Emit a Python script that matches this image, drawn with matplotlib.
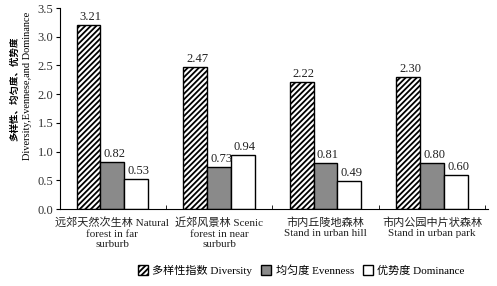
import matplotlib.pyplot as plt
import numpy as np

plt.rcParams['font.family'] = ['Liberation Serif', 'Noto Sans CJK SC']
plt.rcParams['hatch.linewidth'] = 1.3

sites = ['远郊天然次生林 Natural\nforest in far\nsurburb',
         '近郊风景林 Scenic\nforest in near\nsurburb',
         '市内丘陵地森林\nStand in urban hill',
         '市内公园中片状森林\nStand in urban park']
diversity = [3.21, 2.47, 2.22, 2.30]
evenness = [0.82, 0.73, 0.81, 0.80]
dominance = [0.53, 0.94, 0.49, 0.60]
series_names = ['多样性指数 Diversity', '均匀度 Evenness', '优势度 Dominance']

fig = plt.figure(figsize=(4.97, 2.86), dpi=100)
ax = fig.add_axes([0.121, 0.269, 0.860, 0.703])

x = np.arange(len(sites))
w = 0.224
b1 = ax.bar(x - w, diversity, w, color='white', edgecolor='black', hatch='//////', linewidth=1.0, label=series_names[0])
b2 = ax.bar(x, evenness, w, color='#8a8a8a', edgecolor='black', linewidth=1.0, label=series_names[1])
b3 = ax.bar(x + w, dominance, w, color='white', edgecolor='black', linewidth=1.0, label=series_names[2])

for bars, vals in [(b1, diversity), (b2, evenness), (b3, dominance)]:
    for r, v in zip(bars, vals):
        ax.text(r.get_x() + r.get_width() / 2 + 0.02, v + 0.03, '%.2f' % v,
                ha='center', va='bottom', fontsize=9, color='#222222')

ax.set_ylim(0, 3.5)
ax.set_yticks(np.arange(0, 3.51, 0.5))
ax.set_yticklabels(['%.1f' % t for t in np.arange(0, 3.51, 0.5)], fontsize=9, color='#333333')
ax.set_xlim(-0.49, 3.52)
ax.set_xticks(x)
labels = ax.set_xticklabels(sites, fontsize=8, color='#222222', linespacing=1.2)
ax.tick_params(axis='x', length=0, pad=6)
ax.set_xticks([0.5, 1.5, 2.5, 3.5], minor=True)
ax.tick_params(axis='x', which='minor', direction='in', length=3)
ax.tick_params(axis='y', direction='out', length=3, pad=2)
ax.spines['top'].set_visible(False)
ax.spines['right'].set_visible(False)

fig.text(0.030, 0.69, '多样性、均匀度、优势度', rotation=90, ha='center', va='center', fontsize=6.8, fontweight='bold')
fig.text(0.056, 0.70, 'Diversity,Evennese,and Dominance', rotation=90, ha='center', va='center', fontsize=7.5)

fig.legend(handles=[b1, b2, b3], loc='center', bbox_to_anchor=(0.606, 0.055), ncol=3,
           frameon=False, fontsize=8, handlelength=0.9, handleheight=0.9,
           handletextpad=0.4, columnspacing=0.8)

fig.savefig('out.png', dpi=100)
